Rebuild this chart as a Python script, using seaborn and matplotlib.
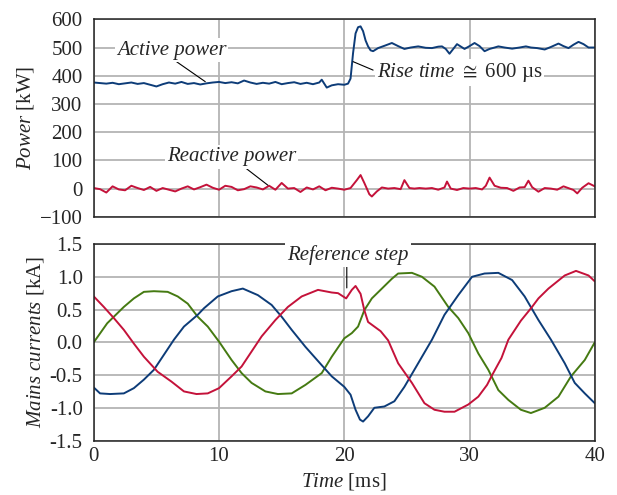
import seaborn as sns
import matplotlib.pyplot as plt

# --- power traces [kW] vs time [ms] ---
p_act_t = [0, 0.5, 1, 1.5, 2, 2.5, 3, 3.5, 4, 4.5, 5, 5.5, 6, 6.5, 7, 7.5, 8, 8.5, 9, 9.5,
           10, 10.5, 11, 11.5, 12, 12.5, 13, 13.5, 14, 14.5, 15, 15.5, 16, 16.5, 17, 17.5,
           18, 18.2, 18.6, 19, 19.5, 20, 20.3, 20.5, 20.7, 20.9, 21.1, 21.3, 21.5, 21.7,
           21.9, 22.1, 22.3, 22.7, 23.2, 23.8, 24.3, 24.8, 25.3, 25.9, 26.5, 27, 27.5, 27.8,
           28.1, 28.4, 28.7, 29, 29.6, 30, 30.4, 30.8, 31.2, 31.6, 32, 32.3, 32.8, 33.4, 34,
           34.5, 34.9, 35.4, 36, 36.5, 37.1, 37.5, 37.9, 38.3, 38.7, 39.1, 39.5, 40]
p_act = [376, 374, 372, 375, 370, 373, 376, 371, 374, 368, 362, 370, 376, 372, 378, 371, 374, 369, 373, 376,
         378, 374, 377, 373, 383, 376, 371, 375, 372, 378, 370, 374, 377, 371, 375, 370,
         376, 386, 358, 366, 370, 368, 372, 390, 480, 550, 572, 575, 558, 525,
         504, 490, 487, 498, 506, 516, 505, 495, 500, 504, 499, 498, 503, 504,
         495, 478, 495, 512, 495, 505, 516, 505, 487, 495, 500, 504, 500, 496, 500,
         504, 500, 498, 493, 502, 514, 505, 498, 510, 520, 512, 500, 500]

p_react_t = [0, 0.5, 1, 1.5, 2, 2.5, 3, 3.5, 4, 4.5, 5, 5.5, 6, 6.5, 7, 7.5, 8, 8.5, 9, 9.5,
             10, 10.5, 11, 11.5, 12, 12.5, 13, 13.5, 14, 14.5, 15, 15.5, 16, 16.5, 17, 17.5,
             18, 18.5, 19, 19.5, 20, 20.5, 21, 21.3, 21.6, 22, 22.2, 22.6, 23, 23.5, 24, 24.5,
             24.8, 25.2, 25.6, 26, 26.5, 27, 27.5, 28, 28.2, 28.5, 29, 29.5, 30, 30.5, 31,
             31.3, 31.6, 32, 32.5, 33, 33.5, 34, 34.4, 34.7, 35, 35.5, 36, 36.5, 37, 37.5,
             38, 38.3, 38.6, 39, 39.5, 40]
p_react = [2, -2, -14, 8, -3, -6, 10, 2, -5, 6, -8, 2, -4, -10, 0, 8, -3, 5, 14, 3,
           -4, 10, 6, -6, -2, 8, 4, -3, 10, -4, 20, 0, 2, -12, 4, -3,
           8, -6, 3, 0, -4, 2, 30, 48, 20, -20, -28, -10, 4, 0, 2, -2,
           30, 2, 0, 2, 0, 2, -4, 4, 25, 0, -5, 2, 0, 2, -3,
           10, 39, 10, 3, 2, -8, 4, 5, 28, 5, -11, 2, 0, -4, 8,
           0, -5, -17, 3, 19, 8]

# --- mains currents [kA] vs time [ms] ---
ia_t = [0, 1.07, 1.6, 2.4, 3.2, 4.0, 4.8, 5.9, 6.7, 7.5, 8.3, 9.1, 10.0, 11.0, 11.8, 12.6,
        13.7, 14.7, 15.8, 16.9, 18.2, 19.0, 20.0, 20.6, 21.1, 21.6, 22.2, 23.0, 23.8, 24.3,
        25.4, 26.2, 27.2, 28.3, 29.1, 29.9, 30.7, 31.5, 32.3, 33.1, 34.1, 34.9, 36.0, 37.1,
        38.1, 39.2, 40.0]
ia = [0.0, 0.29, 0.39, 0.54, 0.67, 0.77, 0.78, 0.77, 0.70, 0.59, 0.39, 0.24, 0.01, -0.27, -0.47, -0.62,
      -0.75, -0.79, -0.78, -0.65, -0.47, -0.22, 0.06, 0.14, 0.24, 0.49, 0.67, 0.82, 0.97, 1.05,
      1.06, 1.0, 0.85, 0.54, 0.37, 0.14, -0.17, -0.42, -0.73, -0.88, -1.03, -1.08, -1.0, -0.83,
      -0.52, -0.27, 0.0]

ib_t = [0, 0.5, 1.3, 2.4, 3.2, 4.0, 4.8, 5.6, 6.4, 7.2, 8.3, 8.8, 9.9, 11.0, 11.9, 13.1,
        14.2, 15.0, 15.8, 16.9, 18.2, 19.0, 20.0, 20.5, 20.9, 21.25, 21.5, 21.9, 22.4, 23.2,
        24.0, 24.8, 25.9, 27.0, 28.0, 29.1, 30.2, 31.2, 32.3, 33.4, 34.4, 35.5, 36.5, 37.6,
        38.4, 39.2, 40.0]
ib = [-0.69, -0.78, -0.79, -0.78, -0.70, -0.57, -0.42, -0.19, 0.04, 0.24, 0.42, 0.52, 0.70, 0.78, 0.82, 0.72,
      0.57, 0.39, 0.19, -0.07, -0.35, -0.52, -0.68, -0.80, -1.03, -1.18, -1.21, -1.13, -1.0, -0.98,
      -0.90, -0.68, -0.32, 0.04, 0.42, 0.72, 1.0, 1.05, 1.06, 0.95, 0.70, 0.34, 0.04, -0.32,
      -0.62, -0.78, -0.93]

ic_t = [0, 0.8, 1.6, 2.4, 3.2, 4.0, 5.1, 6.2, 7.2, 8.2, 9.1, 10.0, 11.0, 11.8, 12.6, 13.4,
        14.5, 15.5, 16.6, 17.9, 19.0, 19.5, 20.15, 20.6, 20.9, 21.3, 21.6, 21.9, 22.9, 23.5, 24.3,
        25.4, 26.4, 27.2, 28.0, 28.8, 29.9, 30.7, 31.4, 31.75, 32.55, 33.1, 34.1, 34.95, 35.5,
        36.3, 37.6, 38.5, 39.5, 40.0]
ic = [0.70, 0.54, 0.37, 0.19, -0.02, -0.22, -0.45, -0.60, -0.75, -0.79, -0.78, -0.70, -0.52, -0.37, -0.14, 0.09,
      0.34, 0.54, 0.70, 0.80, 0.76, 0.75, 0.67, 0.80, 0.86, 0.74, 0.49, 0.31, 0.17, 0.03, -0.32,
      -0.62, -0.93, -1.03, -1.06, -1.06, -0.95, -0.83, -0.65, -0.52, -0.24, 0.04, 0.33, 0.53, 0.67,
      0.82, 1.02, 1.09, 1.02, 0.93]

blue = '#0d3c78'
red = '#c4123a'
green = '#457a12'
grid_c = '#b4b4b4'

sns.set_style('white')
plt.rcParams['font.family'] = ['Liberation Serif', 'DejaVu Serif']
plt.rcParams['mathtext.fontset'] = 'custom'
plt.rcParams['mathtext.rm'] = 'Liberation Serif'
plt.rcParams['mathtext.it'] = 'Liberation Serif:italic'
plt.rcParams['font.size'] = 15

fig = plt.figure(figsize=(6.17, 4.95), dpi=100)
ax1 = fig.add_axes([0.152, 0.562, 0.812, 0.399])
ax2 = fig.add_axes([0.152, 0.110, 0.812, 0.397])

lw = 1.4
sns.lineplot(x=p_act_t, y=p_act, ax=ax1, color=blue, lw=lw, estimator=None, sort=False)
sns.lineplot(x=p_react_t, y=p_react, ax=ax1, color=red, lw=lw, estimator=None, sort=False)

sns.lineplot(x=ia_t, y=ia, ax=ax2, color=green, lw=lw, estimator=None, sort=False)
sns.lineplot(x=ib_t, y=ib, ax=ax2, color=blue, lw=lw, estimator=None, sort=False)
sns.lineplot(x=ic_t, y=ic, ax=ax2, color=red, lw=lw, estimator=None, sort=False)

for ax in (ax1, ax2):
    ax.set_xlim(0, 40)
    ax.set_xticks([0, 10, 20, 30, 40])
    ax.grid(True, color=grid_c, lw=1.3)
    ax.set_axisbelow(True)
    ax.tick_params(length=0, pad=8, labelsize=15)
    for s in ax.spines.values():
        s.set_color('#222222')
        s.set_linewidth(1.1)

ax1.set_ylim(-100, 600)
ax1.set_yticks(range(-100, 601, 100))
ax1.set_xticklabels([])
ax1.set_ylabel(r'$\mathit{Power}$ [kW]', fontsize=15, labelpad=3)

ax2.set_ylim(-1.5, 1.5)
ax2.set_yticks([-1.5, -1.0, -0.5, 0.0, 0.5, 1.0, 1.5])
ax2.set_yticklabels(['-1.5', '-1.0', '-0.5', '0.0', '0.5', '1.0', '1.5'])
ax2.set_ylabel(r'$\mathit{Mains\ currents}$ [kA]', fontsize=15, labelpad=3)
ax2.tick_params(axis='x', pad=5)
ax2.set_xlabel(r'$\mathit{Time}$ [ms]', fontsize=15, labelpad=3)

box = dict(facecolor='white', edgecolor='none', pad=1.5)
line = dict(arrowstyle='-', color='black', lw=0.8, shrinkA=0, shrinkB=0)

ax1.annotate('', xy=(8.9, 379), xytext=(6.6, 450), arrowprops=line)
ax1.text(6.2, 491, 'Active power', style='italic', ha='center', va='center', bbox=box)

ax1.annotate('', xy=(13.9, 12), xytext=(12.0, 77), arrowprops=line)
ax1.text(11.0, 112, 'Reactive power', style='italic', ha='center', va='center', bbox=box)

ax1.annotate('', xy=(20.7, 450), xytext=(22.3, 420), arrowprops=line)
ax1.text(29.2, 410, r'$\mathit{Rise\ time}\ \cong$ 600 µs', ha='center', va='center', bbox=box)

ax2.annotate('', xy=(20.2, 0.83), xytext=(20.2, 1.2), arrowprops=line)
ax2.text(20.3, 1.33, 'Reference step', style='italic', ha='center', va='center', bbox=box)

fig.savefig('out.png', dpi=100)
